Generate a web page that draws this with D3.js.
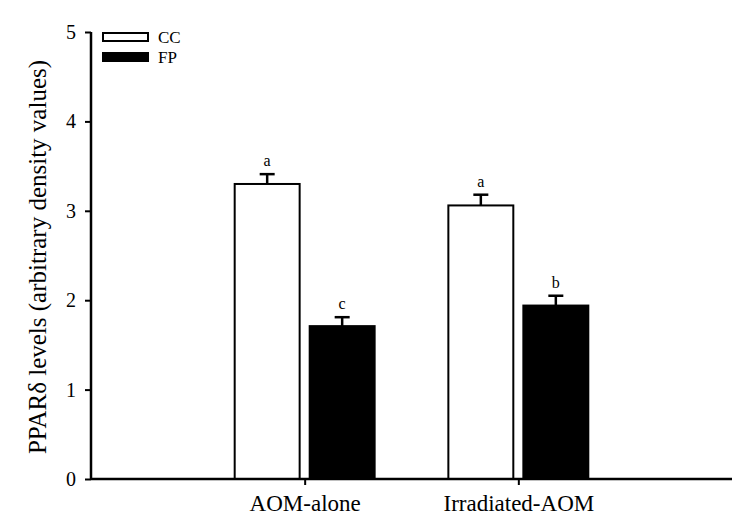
<!DOCTYPE html>
<html>
<head>
<meta charset="utf-8">
<script src="https://cdn.jsdelivr.net/npm/d3@7"></script>
<style>
  body { margin: 0; background: #fff; }
  svg text { font-family: "Liberation Serif", "Times New Roman", serif; fill: #000; }
</style>
</head>
<body>
<svg id="chart" width="750" height="527"></svg>
<script>
// values
var categories = ['AOM-alone', 'Irradiated-AOM'];
var seriesNames = ['CC', 'FP'];
var ccValues = [3.30, 3.06];
var ccErrors = [0.11, 0.12];
var ccLetters = ['a', 'a'];
var fpValues = [1.71, 1.94];
var fpErrors = [0.10, 0.11];
var fpLetters = ['c', 'b'];
var yTicks = [0, 1, 2, 3, 4, 5];

var serif = '"Liberation Serif", "Times New Roman", serif';
var svg = d3.select('#chart');
var plotLeft = 91, plotRight = 732, plotTop = 32, plotBottom = 479;

// categories sit at 1 and 2 on a 0..3 axis
var x = d3.scaleLinear().domain([0, 3]).range([plotLeft, plotRight]);
var y = d3.scaleLinear().domain([0, 5]).range([plotBottom, plotTop]);

var barW = 0.304, gap = 0.047;

var rows = [];
categories.forEach(function(c, i) {
  rows.push({cat: i + 1, off: -gap / 2 - barW, v: ccValues[i], e: ccErrors[i], t: ccLetters[i], fill: '#fff'});
  rows.push({cat: i + 1, off: gap / 2, v: fpValues[i], e: fpErrors[i], t: fpLetters[i], fill: '#000'});
});

// error bars (upper only) under the bars
var eb = svg.append('g').attr('stroke', '#000').attr('stroke-width', 2.5);
rows.forEach(function(d) {
  var cx = x(d.cat + d.off + barW / 2);
  eb.append('line').attr('x1', cx).attr('x2', cx).attr('y1', y(d.v)).attr('y2', y(d.v + d.e));
  eb.append('line').attr('x1', cx - 7.5).attr('x2', cx + 7.5).attr('y1', y(d.v + d.e)).attr('y2', y(d.v + d.e));
});

svg.append('g').selectAll('rect').data(rows).join('rect')
  .attr('x', function(d) { return x(d.cat + d.off); })
  .attr('width', function(d) { return x(d.cat + d.off + barW) - x(d.cat + d.off); })
  .attr('y', function(d) { return y(d.v); })
  .attr('height', function(d) { return y(0) - y(d.v); })
  .attr('fill', function(d) { return d.fill; })
  .attr('stroke', '#000')
  .attr('stroke-width', 2);

svg.append('g').selectAll('text').data(rows).join('text')
  .attr('x', function(d) { return x(d.cat + d.off + barW / 2); })
  .attr('y', function(d) { return y(d.v + d.e) - 8; })
  .attr('text-anchor', 'middle')
  .attr('font-family', serif)
  .attr('font-size', 16)
  .text(function(d) { return d.t; });

// axes
var yAxis = svg.append('g')
  .attr('transform', 'translate(' + plotLeft + ',0)')
  .call(d3.axisLeft(y).tickValues(yTicks).tickSize(6).tickPadding(9).tickFormat(d3.format('d')));
yAxis.select('.domain').attr('stroke-width', 2.5).attr('d', 'M0,' + plotBottom + 'V' + plotTop);
yAxis.selectAll('.tick line').attr('stroke-width', 2);
yAxis.selectAll('.tick text').attr('font-size', 20).attr('font-family', serif);

var xAxis = svg.append('g')
  .attr('transform', 'translate(0,' + plotBottom + ')')
  .call(d3.axisBottom(x).tickValues([1, 2]).tickSize(6).tickPadding(10)
    .tickFormat(function(d) { return categories[d - 1]; }));
xAxis.select('.domain').attr('stroke-width', 2.5).attr('d', 'M' + plotLeft + ',0H' + plotRight);
xAxis.selectAll('.tick line').attr('stroke-width', 2);
xAxis.selectAll('.tick text').attr('font-size', 23).attr('font-family', serif);

// y label
svg.append('text')
  .attr('transform', 'translate(46,257) rotate(-90)')
  .attr('text-anchor', 'middle')
  .attr('font-family', serif)
  .attr('font-size', 25)
  .text('PPARδ levels (arbitrary density values)');

// legend
var legend = svg.append('g');
seriesNames.forEach(function(name, i) {
  legend.append('rect')
    .attr('x', 103).attr('y', 33 + i * 20)
    .attr('width', 45).attr('height', 8)
    .attr('fill', i === 0 ? '#fff' : '#000')
    .attr('stroke', '#000').attr('stroke-width', 2);
  legend.append('text')
    .attr('x', 158).attr('y', 43 + i * 20)
    .attr('font-family', serif)
    .attr('font-size', 17)
    .text(name);
});
</script>
</body>
</html>
